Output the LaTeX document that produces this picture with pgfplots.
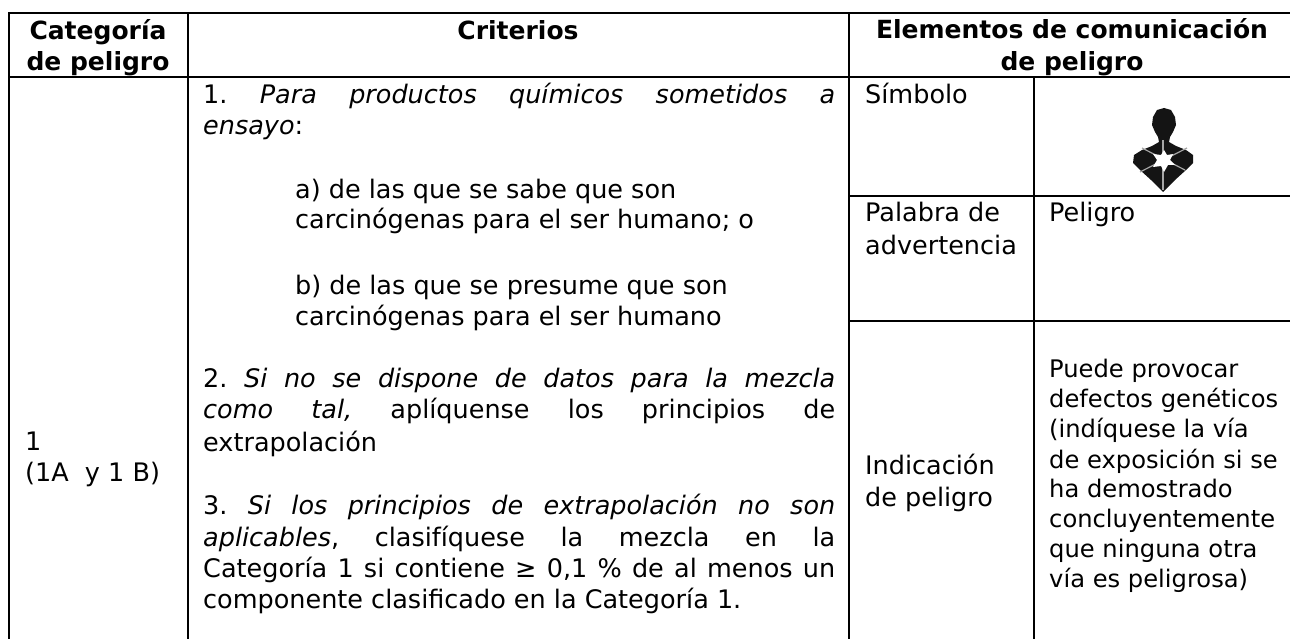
\documentclass[border=0pt]{standalone}
\usepackage{pgfplots}
\pgfplotsset{compat=1.18}
\usepackage{fontspec}
\setmainfont{DejaVu Sans}
\newcommand{\T}[3]{\node[anchor=base west,inner sep=0pt] at (axis cs:#1,#2) {#3};}
\newcommand{\R}[3]{\node[anchor=base west,inner sep=0pt] at (axis cs:#1,#2) {\fontsize{24.2}{28}\selectfont #3};}
\newcommand{\C}[3]{\node[anchor=base,inner sep=0pt] at (axis cs:#1,#2) {\fontsize{25}{28}\selectfont\bfseries #3};}
\newcommand{\J}[2]{\node[anchor=base west,inner sep=0pt] at (axis cs:203,#1) {\makebox[632pt][s]{#2}};}
\begin{document}
\fontsize{25.5}{30}\selectfont\frenchspacing
\begin{tikzpicture}
\path (0,0) rectangle (1290pt,639pt);
\begin{axis}[at={(0,0)},anchor=south west,scale only axis,width=1290pt,height=639pt,xmin=0,xmax=1290,ymin=0,ymax=639,y dir=reverse,axis lines=none,clip=true]
\addplot[black,line width=2.4pt] coordinates {(8,13)(1290,13)};
\addplot[black,line width=2.2pt] coordinates {(8,77)(1290,77)};
\addplot[black,line width=2pt] coordinates {(850,196)(1290,196)};
\addplot[black,line width=2pt] coordinates {(850,321)(1290,321)};
\addplot[black,line width=2.2pt] coordinates {(9,13)(9,639)};
\addplot[black,line width=2.2pt] coordinates {(188,13)(188,639)};
\addplot[black,line width=2.2pt] coordinates {(849,13)(849,639)};
\addplot[black,line width=2.2pt] coordinates {(1034,77)(1034,639)};
\addplot[fill=black!92,draw=none] coordinates {(1164,108)(1171,110)(1175,117)(1176,125)(1173,132)(1170,137)(1169,142)(1176,146)(1186,150)(1193,155)(1193,163)(1186,170)(1175,180)(1163,192)(1151,180)(1140,170)(1133,163)(1134,155)(1142,150)(1152,146)(1159,142)(1158,137)(1155,132)(1152,125)(1153,117)(1157,110)(1164,108)};
\addplot[black!35,line width=1.2pt] coordinates {(1163,140)(1163,190)};
\addplot[black!35,line width=1.2pt] coordinates {(1142,148)(1185,170)};
\addplot[black!35,line width=1.2pt] coordinates {(1187,148)(1140,172)};
\addplot[fill=white,draw=none] coordinates {(1164,150)(1167,155)(1173,154)(1170,160)(1175,165)(1168,165)(1164,172)(1161,166)(1153,167)(1157,160)(1153,154)(1161,155)(1164,150)};
\C{98}{40}{Categoría}
\C{98}{71}{de peligro}
\C{518}{40}{Criterios}
\C{1072}{39}{Elementos de comunicación}
\C{1072}{71}{de peligro}
\J{104}{1. \itshape Para productos químicos sometidos a}
\T{203}{135}{\itshape ensayo\upshape:}
\T{295}{199}{a) de las que se sabe que son}
\T{295}{229}{carcinógenas para el ser humano; o}
\T{295}{294}{b) de las que se presume que son}
\T{295}{325}{carcinógenas para el ser humano}
\J{387}{2. \itshape Si no se dispone de datos para la mezcla}
\J{418}{\itshape como tal, \upshape aplíquense los principios de}
\T{203}{451}{extrapolación}
\J{514}{3. \itshape Si los principios de extrapolación no son}
\J{546}{\itshape aplicables\upshape, clasifíquese la mezcla en la}
\J{577}{Categoría 1 si contiene ≥ 0,1 \% de al menos un}
\T{203}{608}{componente clasificado en la Categoría 1.}
\T{865}{104}{Símbolo}
\T{865}{222}{Palabra de}
\T{865}{254}{advertencia}
\T{1049}{222}{Peligro}
\T{865}{474}{Indicación}
\T{865}{506}{de peligro}
\R{1049}{377}{Puede provocar}
\R{1049}{407}{defectos genéticos}
\R{1049}{437}{(indíquese la vía}
\R{1049}{468}{de exposición si se}
\R{1049}{497}{ha demostrado}
\R{1049}{527}{concluyentemente}
\R{1049}{557}{que ninguna otra}
\R{1049}{587}{vía es peligrosa)}
\T{25}{450}{1}
\T{25}{481}{(1A\ \ y 1 B)}
\end{axis}
\end{tikzpicture}
\end{document}
